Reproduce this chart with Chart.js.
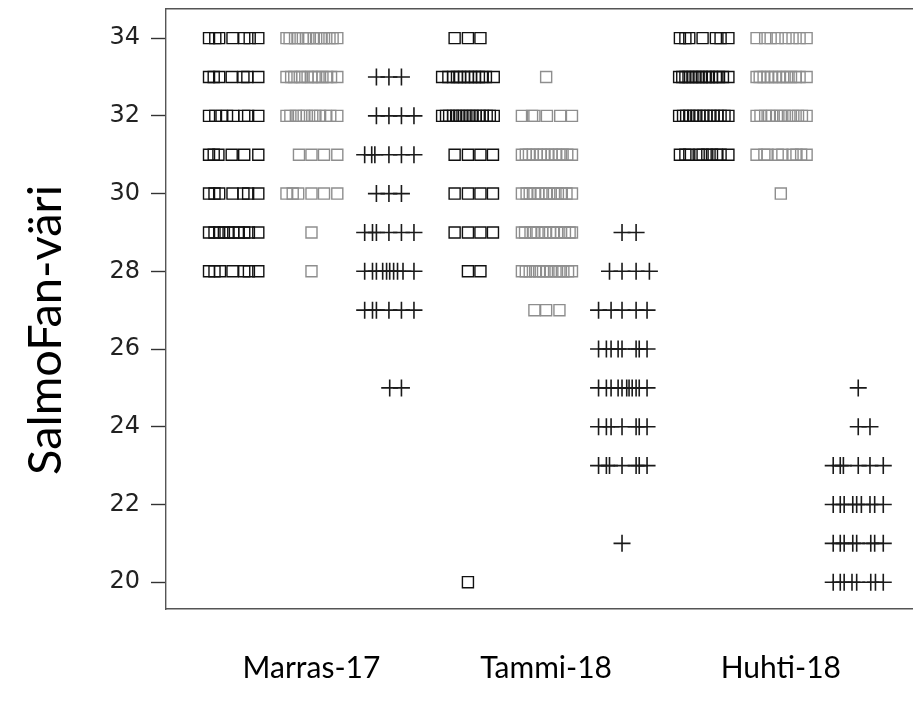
<!DOCTYPE html>
<html>
<head>
<meta charset="utf-8">
<script src="https://cdn.jsdelivr.net/npm/chart.js@4.4.1/dist/chart.umd.min.js"></script>
<style>
  html, body { margin: 0; padding: 0; background: #fff; overflow: hidden; }
  #wrap { width: 913px; height: 708px; }
</style>
</head>
<body>
<div id="wrap"><canvas id="kaavio" width="913" height="708"></canvas></div>
<script>
// ajankohdat ja niiden paikat x-akselilla
const periods = ['Marras-17', 'Tammi-18', 'Huhti-18'];
const periodPos = [2, 5, 8];
const yTicks = [20, 22, 24, 26, 28, 30, 32, 34];

// [arvo, jitter-siirrot] per rivi
const marrasMusta = [
  [34, [-0.31, -0.23, -0.18, -0.01, 0.14, 0.21, 0.32]],
  [33, [-0.31, -0.25, -0.18, -0.02, 0.13, 0.18, 0.32]],
  [32, [-0.31, -0.23, -0.15, -0.08, 0.0, 0.14, 0.19, 0.32]],
  [31, [-0.31, -0.25, -0.19, -0.02, 0.14, 0.32]],
  [30, [-0.31, -0.24, -0.18, -0.01, 0.13, 0.19, 0.32]],
  [29, [-0.31, -0.24, -0.18, -0.12, -0.06, 0.0, 0.07, 0.14, 0.2, 0.32]],
  [28, [-0.31, -0.24, -0.17, -0.01, 0.14, 0.2, 0.32]]
];
const marrasHarmaa = [
  [34, [-0.32, -0.28, -0.21, -0.17, -0.11, -0.07, -0.04, 0.03, 0.06, 0.12, 0.16, 0.23, 0.27, 0.33]],
  [33, [-0.32, -0.26, -0.22, -0.15, -0.12, -0.05, 0.0, 0.04, 0.09, 0.14, 0.2, 0.25, 0.33]],
  [32, [-0.32, -0.27, -0.2, -0.16, -0.1, -0.06, 0.01, 0.05, 0.11, 0.18, 0.24, 0.33]],
  [31, [-0.16, 0.0, 0.16, 0.33]],
  [30, [-0.32, -0.24, -0.17, 0.0, 0.16, 0.33]],
  [29, [0.0]],
  [28, [0.0]]
];
const marrasRisti = [
  [33, [-0.17, -0.01, 0.15]],
  [32, [-0.17, -0.01, 0.15, 0.31]],
  [31, [-0.32, -0.23, -0.19, -0.01, 0.15, 0.31]],
  [30, [-0.17, -0.01, 0.15]],
  [29, [-0.32, -0.22, -0.17, -0.01, 0.15, 0.31]],
  [28, [-0.32, -0.22, -0.17, -0.09, -0.04, 0.0, 0.05, 0.1, 0.17, 0.31]],
  [27, [-0.32, -0.22, -0.17, -0.01, 0.15, 0.31]],
  [25, [0.0, 0.15]]
];
const tammiMusta = [
  [34, [-0.17, 0.0, 0.16]],
  [33, [-0.33, -0.25, -0.19, -0.14, -0.1, -0.05, 0.0, 0.04, 0.09, 0.14, 0.18, 0.23, 0.33]],
  [32, [-0.33, -0.28, -0.24, -0.19, -0.15, -0.11, -0.07, -0.02, 0.02, 0.06, 0.1, 0.15, 0.19, 0.24, 0.28, 0.33]],
  [31, [-0.17, 0.0, 0.16, 0.32]],
  [30, [-0.17, 0.0, 0.16, 0.32]],
  [29, [-0.17, 0.0, 0.16, 0.32]],
  [28, [0.0, 0.16]],
  [20, [0.0]]
];
const tammiHarmaa = [
  [33, [0.0]],
  [32, [-0.31, -0.18, -0.15, 0.01, 0.18, 0.33]],
  [31, [-0.31, -0.26, -0.22, -0.17, -0.12, -0.07, -0.03, 0.02, 0.07, 0.12, 0.17, 0.21, 0.27, 0.33]],
  [30, [-0.31, -0.25, -0.21, -0.15, -0.1, -0.06, 0.0, 0.04, 0.1, 0.15, 0.2, 0.26, 0.33]],
  [29, [-0.31, -0.27, -0.2, -0.16, -0.11, -0.05, -0.01, 0.05, 0.09, 0.14, 0.19, 0.24, 0.3, 0.33]],
  [28, [-0.31, -0.26, -0.21, -0.14, -0.09, -0.04, 0.01, 0.06, 0.12, 0.17, 0.22, 0.28, 0.33]],
  [27, [-0.15, 0.0, 0.17]]
];
const tammiRisti = [
  [29, [-0.03, 0.15]],
  [28, [-0.19, -0.03, 0.15, 0.32]],
  [27, [-0.33, -0.17, -0.03, 0.15, 0.29]],
  [26, [-0.33, -0.23, -0.17, -0.08, -0.03, 0.15, 0.19, 0.29]],
  [25, [-0.33, -0.23, -0.17, -0.08, -0.03, 0.03, 0.06, 0.1, 0.15, 0.19, 0.29]],
  [24, [-0.33, -0.23, -0.17, -0.03, 0.15, 0.19, 0.29]],
  [23, [-0.33, -0.23, -0.19, -0.03, 0.15, 0.19, 0.29]],
  [21, [-0.03]]
];
const huhtiMusta = [
  [34, [-0.29, -0.22, -0.17, 0.0, 0.17, 0.23, 0.33]],
  [33, [-0.3, -0.26, -0.22, -0.18, -0.13, -0.09, -0.05, -0.01, 0.04, 0.08, 0.12, 0.17, 0.21, 0.26, 0.33]],
  [32, [-0.3, -0.25, -0.21, -0.17, -0.12, -0.08, -0.04, 0.01, 0.05, 0.1, 0.14, 0.19, 0.23, 0.28, 0.33]],
  [31, [-0.29, -0.22, -0.17, -0.05, 0.0, 0.06, 0.12, 0.18, 0.23, 0.33]]
];
const huhtiHarmaa = [
  [34, [-0.31, -0.2, -0.13, -0.04, 0.06, 0.15, 0.24, 0.33]],
  [33, [-0.31, -0.27, -0.22, -0.17, -0.12, -0.07, -0.02, 0.03, 0.08, 0.13, 0.19, 0.24, 0.33]],
  [32, [-0.31, -0.26, -0.2, -0.15, -0.11, -0.05, 0.0, 0.05, 0.11, 0.16, 0.22, 0.27, 0.33]],
  [31, [-0.31, -0.21, -0.17, -0.04, 0.02, 0.15, 0.2, 0.26, 0.33]],
  [30, [0.0]]
];
const huhtiRisti = [
  [25, [-0.01]],
  [24, [-0.01, 0.14]],
  [23, [-0.33, -0.24, -0.2, -0.01, 0.14, 0.31]],
  [22, [-0.33, -0.24, -0.19, -0.08, -0.03, 0.03, 0.14, 0.2, 0.31]],
  [21, [-0.33, -0.24, -0.19, -0.08, -0.03, 0.15, 0.2, 0.31]],
  [20, [-0.33, -0.24, -0.19, -0.09, -0.03, 0.15, 0.21, 0.31]]
];

function pisteet(paikka, rivit) {
  return rivit.flatMap(([arvo, siirrot]) => siirrot.map(s => ({ x: paikka + s, y: arvo })));
}

const mustat = [...pisteet(1, marrasMusta), ...pisteet(4, tammiMusta), ...pisteet(7, huhtiMusta)];
const harmaat = [...pisteet(2, marrasHarmaa), ...pisteet(5, tammiHarmaa), ...pisteet(8, huhtiHarmaa)];
const ristit = [...pisteet(3, marrasRisti), ...pisteet(6, tammiRisti), ...pisteet(9, huhtiRisti)];

const fontti = 'Lato, "Open Sans", sans-serif';

// y-akselin otsikko kiinteään paikkaan
const yOtsikko = {
  id: 'yOtsikko',
  afterDraw(chart) {
    const c = chart.ctx;
    c.save();
    c.translate(46, 330);
    c.rotate(-Math.PI / 2);
    c.font = '47px ' + fontti;
    c.fillStyle = '#000';
    c.textAlign = 'center';
    c.textBaseline = 'middle';
    c.fillText('SalmoFan-väri', 0, 0);
    c.restore();
  }
};

new Chart(document.getElementById('kaavio'), {
  type: 'scatter',
  data: {
    datasets: [
      { data: mustat, pointStyle: 'rect', pointRadius: 7.8, borderColor: '#111', borderWidth: 1.4, backgroundColor: 'rgba(0,0,0,0)' },
      { data: harmaat, pointStyle: 'rect', pointRadius: 7.8, borderColor: '#8e8e8e', borderWidth: 1.4, backgroundColor: 'rgba(0,0,0,0)' },
      { data: ristit, pointStyle: 'cross', pointRadius: 8.5, borderColor: '#1a1a1a', borderWidth: 1.6 }
    ]
  },
  options: {
    responsive: false,
    animation: false,
    events: [],
    layout: { padding: 0, autoPadding: false },
    plugins: { legend: { display: false }, tooltip: { enabled: false } },
    scales: {
      x: {
        type: 'linear',
        min: 0.14,
        max: 9.69,
        afterBuildTicks: s => { s.ticks = periodPos.map(v => ({ value: v })); },
        afterFit: s => { s.height = 99; s.paddingLeft = 0; s.paddingRight = 0; },
        grid: { drawOnChartArea: false, drawTicks: false },
        border: { display: true, color: '#555', width: 1.4 },
        ticks: {
          padding: 41,
          maxRotation: 0,
          autoSkip: false,
          color: '#000',
          font: { family: fontti, size: 30 },
          callback: v => periods[periodPos.indexOf(v)]
        }
      },
      xTop: {
        type: 'linear',
        position: 'top',
        min: 0.14,
        max: 9.69,
        afterFit: s => { s.height = 9; s.paddingLeft = 0; s.paddingRight = 0; },
        grid: { drawOnChartArea: false, drawTicks: false },
        border: { display: true, color: '#555', width: 1.4 },
        ticks: { display: false }
      },
      y: {
        min: 19.31,
        max: 34.75,
        afterBuildTicks: s => { s.ticks = yTicks.map(v => ({ value: v })); },
        afterFit: s => { s.width = 166; s.paddingTop = 0; s.paddingBottom = 0; },
        grid: { drawOnChartArea: false, tickLength: 15, color: '#333', tickWidth: 1.4 },
        border: { display: true, color: '#555', width: 1.4 },
        ticks: {
          padding: 11,
          color: '#222',
          font: { family: '"DejaVu Sans", "Liberation Sans", sans-serif', size: 24 }
        }
      }
    }
  },
  plugins: [yOtsikko]
});
</script>
</body>
</html>
